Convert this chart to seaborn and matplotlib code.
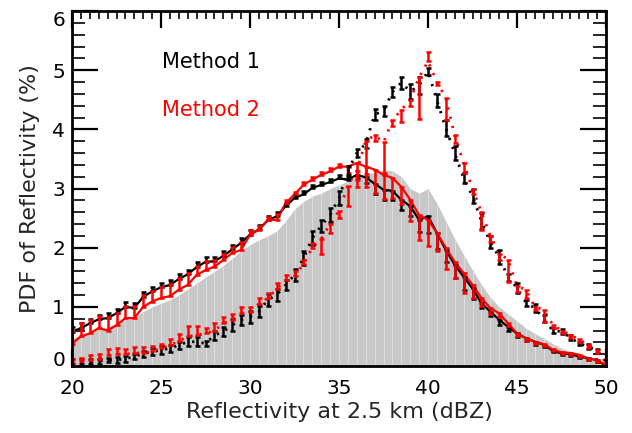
import numpy as np
import pandas as pd
import matplotlib
matplotlib.use("Agg")
import matplotlib.pyplot as plt
from matplotlib.ticker import MultipleLocator
from matplotlib.transforms import ScaledTranslation
import seaborn as sns

# Reflectivity (dBZ), 0.5 dBZ spacing
dbz = np.arange(20.0, 50.01, 0.5)

# Observed PDF (%) drawn as the grey filled background
obs_pdf = [0.47, 0.52, 0.58, 0.63, 0.66, 0.72, 0.78, 0.84, 0.92, 1.00,
           1.06, 1.12, 1.20, 1.30, 1.40, 1.50, 1.60, 1.70, 1.82, 1.95,
           2.05, 2.13, 2.20, 2.28, 2.45, 2.65, 2.78, 2.87, 2.92, 3.00,
           3.06, 3.12, 3.18, 3.22, 3.28, 3.32, 3.30, 3.20, 3.00, 2.92,
           3.00, 2.75, 2.45, 2.15, 1.88, 1.62, 1.38, 1.16, 1.00, 0.88,
           0.76, 0.64, 0.55, 0.47, 0.38, 0.30, 0.24, 0.19, 0.14, 0.10,
           0.04]

# Method 1, solid curve and its (signed) error bar extent
m1_solid = [0.58, 0.64, 0.72, 0.79, 0.81, 0.89, 1.00, 0.98, 1.17, 1.26,
            1.33, 1.37, 1.47, 1.55, 1.67, 1.76, 1.77, 1.86, 1.97, 2.08,
            2.22, 2.31, 2.46, 2.53, 2.70, 2.84, 2.90, 3.01, 3.06, 3.11,
            3.17, 3.15, 3.23, 3.19, 3.08, 2.98, 2.96, 2.81, 2.70, 2.47,
            2.53, 2.25, 1.96, 1.71, 1.51, 1.31, 1.06, 0.92, 0.78, 0.66,
            0.55, 0.47, 0.41, 0.36, 0.26, 0.21, 0.20, 0.16, 0.13, 0.10,
            0.00]
m1_solid_err = [0.08, 0.08, 0.08, 0.08, 0.08, 0.08, 0.08, 0.08, 0.08, 0.08,
                0.08, 0.08, 0.08, 0.08, 0.08, 0.08, 0.08, 0.08, 0.08, 0.08,
                0.08, 0.08, 0.08, 0.08, 0.06, 0.06, 0.05, 0.05, 0.05, 0.05,
                0.05, 0.05, -0.05, -0.10, -0.17, -0.17, -0.15, -0.17, -0.17, -0.20,
                -0.28, -0.28, -0.20, -0.22, -0.22, -0.17, -0.08, -0.08, -0.08, -0.06,
                -0.06, -0.05, -0.05, -0.04, -0.03, -0.03, -0.03, -0.03, -0.03, -0.03,
                0.00]

# Method 2, solid curve and its (signed) error bar extent
m2_solid = [0.38, 0.50, 0.55, 0.64, 0.60, 0.69, 0.81, 0.81, 1.00, 1.09,
            1.15, 1.18, 1.29, 1.37, 1.54, 1.62, 1.68, 1.79, 1.91, 1.96,
            2.22, 2.30, 2.47, 2.47, 2.75, 2.90, 3.06, 3.15, 3.23, 3.29,
            3.37, 3.37, 3.43, 3.37, 3.32, 3.23, 3.18, 3.03, 2.81, 2.55,
            2.47, 2.25, 2.00, 1.76, 1.57, 1.37, 1.15, 0.98, 0.89, 0.72,
            0.55, 0.47, 0.41, 0.37, 0.28, 0.23, 0.22, 0.19, 0.13, 0.10,
            0.02]
m2_solid_err = [0.22, 0.22, 0.22, 0.20, 0.22, 0.20, 0.20, 0.20, 0.20, 0.18,
                0.18, 0.20, 0.20, 0.20, 0.15, 0.15, 0.12, 0.10, 0.10, 0.14,
                0.08, 0.06, 0.05, 0.10, 0.05, 0.04, 0.05, 0.05, 0.05, 0.05,
                0.05, -0.10, -0.40, -0.35, -0.40, -0.40, -0.34, -0.30, -0.36, -0.42,
                -0.45, -0.30, -0.36, -0.28, -0.33, -0.22, -0.14, -0.10, -0.06, -0.05,
                -0.05, -0.04, -0.04, -0.04, -0.03, -0.03, -0.03, -0.03, -0.03, -0.03,
                0.00]

# Method 1, dotted curve with symmetric error half-width
m1_dot = [0.07, 0.07, 0.07, 0.08, 0.10, 0.10, 0.12, 0.16, 0.21, 0.24,
          0.27, 0.30, 0.35, 0.41, 0.41, 0.38, 0.52, 0.58, 0.69, 0.78,
          0.83, 0.92, 1.12, 1.20, 1.37, 1.54, 1.82, 2.16, 2.37, 2.55,
          2.84, 3.30, 3.60, 3.76, 4.25, 4.31, 4.63, 4.79, 4.64, 4.74,
          4.98, 4.49, 4.02, 3.60, 3.18, 2.87, 2.45, 2.09, 1.84, 1.50,
          1.32, 1.07, 0.98, 0.80, 0.60, 0.58, 0.48, 0.38, 0.33, 0.25,
          0.10]
m1_dot_err = [0.04, 0.04, 0.04, 0.04, 0.04, 0.05, 0.05, 0.05, 0.05, 0.06,
              0.06, 0.06, 0.06, 0.08, 0.08, 0.05, 0.08, 0.08, 0.10, 0.08,
              0.10, 0.10, 0.10, 0.10, 0.08, 0.10, 0.12, 0.12, 0.10, 0.12,
              0.12, 0.08, 0.06, 0.08, 0.10, 0.08, 0.08, 0.10, 0.12, 0.15,
              0.06, 0.11, 0.14, 0.11, 0.08, 0.12, 0.14, 0.10, 0.12, 0.06,
              0.08, 0.05, 0.07, 0.06, 0.04, 0.04, 0.04, 0.03, 0.04, 0.03,
              0.00]

# Method 2, dotted curve and its (signed) error bar extent
m2_dot = [0.05, 0.08, 0.10, 0.12, 0.18, 0.20, 0.20, 0.22, 0.22, 0.25,
          0.30, 0.35, 0.42, 0.50, 0.52, 0.55, 0.60, 0.72, 0.78, 0.90,
          0.92, 1.05, 1.15, 1.30, 1.45, 1.52, 1.72, 2.00, 2.15, 2.40,
          2.62, 3.05, 3.30, 3.80, 3.90, 3.78, 4.15, 4.33, 4.50, 4.88,
          5.15, 4.80, 4.53, 3.90, 3.43, 3.00, 2.60, 2.20, 1.90, 1.80,
          1.35, 1.29, 1.00, 0.95, 0.70, 0.60, 0.52, 0.45, 0.35, 0.27,
          0.05]
m2_dot_err = [0.06, 0.06, 0.08, 0.08, 0.10, 0.10, 0.08, 0.10, 0.10, 0.08,
              0.08, 0.10, 0.12, 0.18, 0.15, 0.10, 0.12, 0.10, 0.10, 0.10,
              0.08, 0.10, 0.08, 0.10, 0.08, 0.08, 0.08, 0.08, -0.25, -0.15,
              -0.12, -0.35, -0.15, -0.55, -0.10, -0.52, -0.10, -0.20, -0.10, -0.70,
              0.15, -0.05, -0.37, -0.13, -0.17, -0.10, -0.30, -0.10, -0.10, -0.38,
              -0.10, -0.14, -0.05, -0.20, -0.05, -0.05, -0.05, -0.05, -0.05, -0.05,
              0.00]

legend_labels = ["Method 1", "Method 2"]
x_ticks = [20, 25, 30, 35, 40, 45, 50]
y_ticks = [0, 1, 2, 3, 4, 5, 6]

sns.set_theme(style="ticks")
plt.rcParams["font.family"] = ["DejaVu Sans"]

fig = plt.figure(figsize=(6.32, 4.33), dpi=100)
ax = fig.add_axes([72 / 632, 1 - 366 / 433, 534 / 632, 355 / 433])

# grey observed PDF: filled area with faint light bin separators
obs = np.asarray(obs_pdf)
ax.fill_between(dbz, 0, obs, color="#c8c8c8", linewidth=0, zorder=1)
ax.vlines(dbz, 0, obs, colors="#dedede", linewidth=0.7, zorder=1.5)


def draw_series(values, err, color, style, symmetric=False):
    v = np.asarray(values)
    e = np.asarray(err)
    if symmetric:
        lo, hi = e, e
    else:
        lo, hi = np.clip(-e, 0, None), np.clip(e, 0, None)
    df = pd.DataFrame({"dbz": dbz, "pdf": v})
    if style == "solid":
        sns.lineplot(data=df, x="dbz", y="pdf", color=color, linewidth=1.6,
                     estimator=None, sort=False, ax=ax, zorder=3)
    else:
        sns.lineplot(data=df, x="dbz", y="pdf", color=color, linewidth=2.0,
                     linestyle=(0, (0.8, 2.6)), estimator=None, sort=False,
                     ax=ax, zorder=3)
    ax.errorbar(dbz, v, yerr=[lo, hi], fmt="none", ecolor=color, elinewidth=1.8,
                capsize=1.8, capthick=1.8, zorder=4)


draw_series(m1_solid, m1_solid_err, "black", "solid")
draw_series(m2_solid, m2_solid_err, "#ff0000", "solid")
draw_series(m1_dot, m1_dot_err, "black", "dot", symmetric=True)
draw_series(m2_dot, m2_dot_err, "#ff0000", "dot")

ax.set_xlim(20, 50)
ax.set_ylim(0, 6)
ax.set_xticks(x_ticks)
ax.set_yticks(y_ticks)
ax.xaxis.set_minor_locator(MultipleLocator(0.5))
ax.yaxis.set_minor_locator(MultipleLocator(0.2))
ax.tick_params(axis="x", which="major", direction="in", length=12, width=1.6,
               top=True, bottom=True, pad=9, labelsize=14.5, colors="black")
ax.tick_params(axis="x", which="minor", direction="in", length=6, width=1.4,
               top=True, bottom=True)
ax.tick_params(axis="y", which="major", direction="in", length=19, width=1.6,
               left=True, right=True, pad=5, labelsize=14.5, colors="black")
ax.tick_params(axis="y", which="minor", direction="in", length=9.5, width=1.4,
               left=True, right=True)
for side in ax.spines.values():
    side.set_linewidth(2.0)
    side.set_color("black")
    side.set_zorder(5)

# keep the end labels of the y axis inside the frame height
fig.canvas.draw()
ylabels = ax.get_yticklabels()
ylabels[0].set_transform(ylabels[0].get_transform()
                         + ScaledTranslation(0, 7 / 100, fig.dpi_scale_trans))
ylabels[-1].set_transform(ylabels[-1].get_transform()
                          + ScaledTranslation(0, -7 / 100, fig.dpi_scale_trans))

ax.set_xlabel("Reflectivity at 2.5 km (dBZ)", fontsize=16, labelpad=3)
ax.set_ylabel("PDF of Reflectivity (%)", fontsize=16, labelpad=9)

ax.text(0.168, 0.855, legend_labels[0], transform=ax.transAxes, color="black",
        fontsize=15, va="center", ha="left")
ax.text(0.168, 0.72, legend_labels[1], transform=ax.transAxes, color="#ff0000",
        fontsize=15, va="center", ha="left")

fig.savefig("out.png", dpi=100)
